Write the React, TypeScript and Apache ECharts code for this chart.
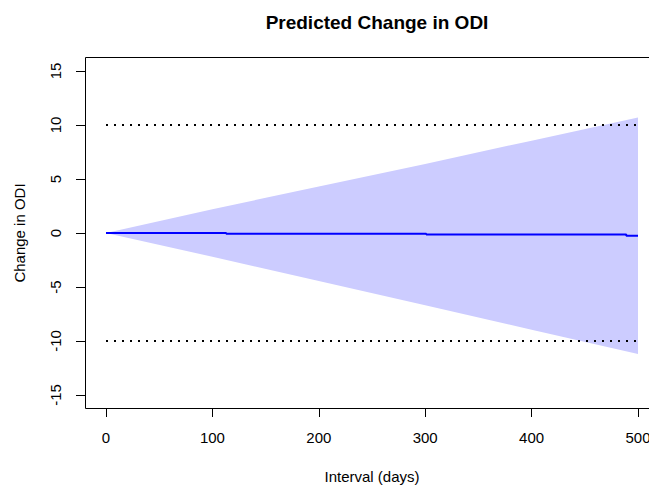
import React, { useEffect, useRef } from "react";
import * as echarts from "echarts";

const titleText = "Predicted Change in ODI";
const xLabel = "Interval (days)";
const yLabel = "Change in ODI";

const bandX = [0, 100, 200, 300, 400, 500];
const bandUpper = [0, 2.2, 4.3, 6.4, 8.55, 10.7];
const bandLower = [0, -2.2, -4.45, -6.7, -8.95, -11.2];

const lineX = [0, 113, 113, 301, 301, 489, 489, 500];
const lineY = [0, 0, -0.07, -0.07, -0.15, -0.15, -0.25, -0.25];

const refX = [0, 500];
const refUpper = [10, 10];
const refLower = [-10, -10];

const FONT = "'Liberation Sans', Arial, sans-serif";

export default function App() {
  const ref = useRef<HTMLDivElement>(null);
  useEffect(() => {
    document.body.style.margin = "0";
    const chart = echarts.init(ref.current!, null, { renderer: "svg" });
    const bandData = bandX.map((x, i) => [x, bandUpper[i], bandLower[i]]);
    chart.setOption({
      animation: false,
      backgroundColor: "#ffffff",
      textStyle: { fontFamily: FONT },
      title: {
        text: titleText,
        left: 372,
        textAlign: "center",
        top: 8,
        textStyle: { fontFamily: FONT, fontSize: 19, fontWeight: "bold", color: "#000" },
      },
      grid: { left: 106, top: 71, width: 532, height: 324, outerBoundsMode: "none", containLabel: false },
      xAxis: {
        type: "value",
        min: 0,
        max: 500,
        interval: 100,
        offset: 13,
        name: xLabel,
        nameLocation: "middle",
        nameGap: 61,
        nameTextStyle: { fontFamily: FONT, fontSize: 15, color: "#000" },
        axisLine: { show: true, onZero: false, lineStyle: { color: "#000", width: 1 } },
        axisTick: { show: true, inside: false, length: 9, lineStyle: { color: "#000" } },
        axisLabel: { fontFamily: FONT, fontSize: 15, color: "#000", margin: 22, showMinLabel: true, showMaxLabel: true },
        splitLine: { show: false },
      },
      yAxis: {
        type: "value",
        min: -15,
        max: 15,
        interval: 5,
        offset: 21,
        name: yLabel,
        nameLocation: "middle",
        nameRotate: 90,
        nameGap: 58,
        nameTextStyle: { fontFamily: FONT, fontSize: 15, color: "#000" },
        axisLine: { show: true, onZero: false, lineStyle: { color: "#000", width: 1 } },
        axisTick: { show: true, inside: false, length: 9, lineStyle: { color: "#000" } },
        axisLabel: { fontFamily: FONT, fontSize: 15, color: "#000", margin: 22, rotate: 90, showMinLabel: true, showMaxLabel: true },
        splitLine: { show: false },
      },
      graphic: [
        {
          type: "rect",
          shape: { x: 85.5, y: 57.5, width: 574, height: 351 },
          style: { fill: "none", stroke: "#000", lineWidth: 1 },
          silent: true,
          z: 100,
        },
      ],
      series: [
        {
          type: "custom",
          data: bandData,
          encode: { x: 0, y: [1, 2] },
          z: 1,
          renderItem: (params: any, api: any) => {
            if (params.dataIndex !== 0) return null;
            const pts: number[][] = [];
            for (let i = 0; i < bandX.length; i++) pts.push(api.coord([bandX[i], bandUpper[i]]));
            for (let i = bandX.length - 1; i >= 0; i--) pts.push(api.coord([bandX[i], bandLower[i]]));
            return {
              type: "polygon",
              shape: { points: pts },
              style: { fill: "#CCCCFF", stroke: "none" },
            };
          },
        },
        {
          type: "line",
          data: refX.map((x, i) => [x, refUpper[i]]),
          showSymbol: false,
          symbol: "none",
          z: 3,
          lineStyle: { color: "#000", width: 2, type: [2, 6] },
        },
        {
          type: "line",
          data: refX.map((x, i) => [x, refLower[i]]),
          showSymbol: false,
          symbol: "none",
          z: 3,
          lineStyle: { color: "#000", width: 2, type: [2, 6] },
        },
        {
          type: "line",
          data: lineX.map((x, i) => [x, lineY[i]]),
          showSymbol: false,
          symbol: "none",
          z: 4,
          lineStyle: { color: "#0000FF", width: 2 },
        },
      ],
    });
    return () => chart.dispose();
  }, []);
  return <div ref={ref} style={{ width: 649, height: 485 }} />;
}
